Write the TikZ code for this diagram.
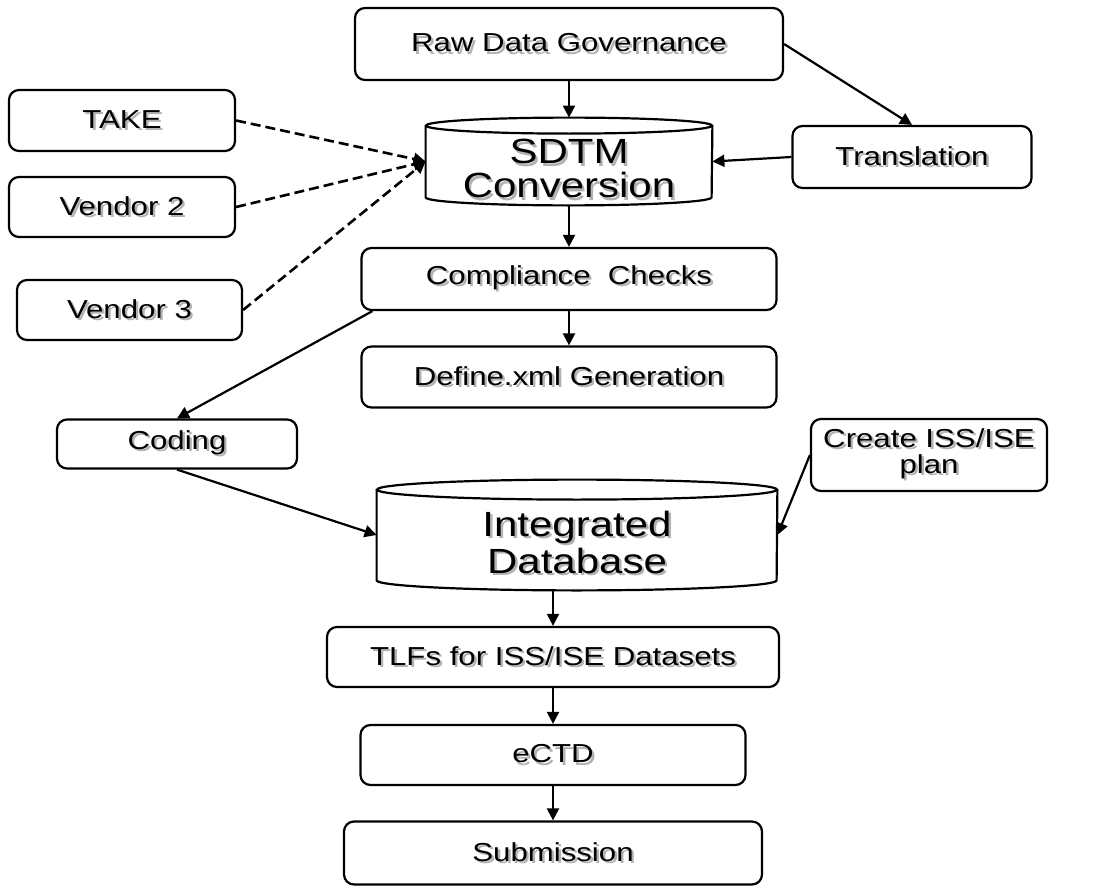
\documentclass[tikz,border=0pt]{standalone}
\usepackage{fontspec}
\setmainfont[FakeStretch=1.2]{Liberation Sans}
\usetikzlibrary{shapes.geometric, arrows.meta}

% grey drop shadow behind a line of text
\newcommand{\shd}[1]{\makebox[0pt][l]{\hspace{1.2pt}\raisebox{-1.2pt}{\textcolor{black!30}{#1}}}#1}

\tikzstyle{box} = [rectangle, rounded corners=5pt, 
minimum height=30pt, 
text centered, align=center, 
draw=black, line width=1.1pt, 
font=\fontsize{13}{13}\selectfont]
\tikzstyle{dbase} = [rectangle, 
inner sep=0pt, 
align=center, 
text height=37.5pt, % pushes the label below the lid
font=\fontsize{17.5}{17}\selectfont]
\tikzstyle{arrow} = [line width=1.1pt,-{Triangle[length=6pt,width=6pt]}]
\tikzstyle{dasharrow} = [arrow, line width=1.3pt, dash pattern=on 5pt off 2.5pt]

\begin{document}
\begin{tikzpicture}[node distance=49pt]
		\useasboundingbox (0,0) rectangle (552.5pt,-447pt);
		
		\node (raw) [box, minimum width=214pt, minimum height=36pt] at (284.5pt,-22pt) {\shd{Raw Data Governance}};
		\node (sdtm) [dbase, minimum width=143pt, minimum height=43.5pt, below of=raw, yshift=-9.75pt] {\shd{SDTM}\\\shd{Conversion}};
		\node (comp) [box, minimum width=207.5pt, minimum height=31pt, below of=sdtm, yshift=-9.75pt] {\shd{Compliance~~Checks}};
		\node (define) [box, minimum width=207.5pt, minimum height=30.5pt, below of=comp] {\shd{Define.xml Generation}};
		\node (idb) [dbase, minimum width=200pt, minimum height=55pt, text height=39.5pt, below of=define, xshift=4pt, yshift=-30pt] {\shd{Integrated}\\\shd{Database}};
		\node (tlf) [box, minimum width=226pt, below of=idb, xshift=-12pt, yshift=-12pt] {\shd{TLFs for ISS/ISE Datasets}};
		\node (ectd) [box, minimum width=192.5pt, below of=tlf] {\shd{eCTD}};
		\node (sub) [box, minimum width=209pt, minimum height=31.5pt, below of=ectd] {\shd{Submission}};
		
		\node (take) [box, minimum width=113pt, minimum height=30.5pt, left of=sdtm, xshift=-174.5pt, yshift=20.5pt] {\shd{TAKE}};
		\node (v2) [box, minimum width=113pt, below of=take, yshift=5.75pt] {\shd{Vendor 2}};
		\node (v3) [box, minimum width=112.5pt, below of=v2, xshift=3.75pt, yshift=-2.5pt] {\shd{Vendor 3}};
		\node (trans) [box, minimum width=119.5pt, minimum height=31pt, right of=sdtm, xshift=122.5pt, yshift=2.25pt] {\shd{Translation}};
		\node (coding) [box, minimum width=120pt, minimum height=24.5pt, left of=idb, xshift=-151pt, yshift=45.5pt] {\shd{Coding}};
		\node (create) [box, minimum width=118pt, minimum height=36pt, right of=idb, xshift=127pt, yshift=40pt] {\shd{Create ISS/ISE}\\\shd{plan}};
		
		% database drums
		\foreach \db/\rx/\ry in {sdtm/71.5pt/4pt, idb/100pt/5pt}{
			\draw[line width=1.1pt] ([yshift=-\ry]\db.north) ellipse [x radius=\rx, y radius=\ry];
			\draw[line width=1.1pt] ([yshift=-\ry]\db.north west) -- ([yshift=\ry]\db.south west) 
				arc [start angle=180, end angle=360, x radius=\rx, y radius=\ry] -- ([yshift=-\ry]\db.north east);
		}
		
		\draw [arrow] (raw) -- (sdtm);
		\draw [arrow] (raw.east) -- (trans.north);
		\draw [arrow] (trans.west) -- (sdtm.east);
		\draw [dasharrow] (take.east) -- (sdtm.west);
		\draw [dasharrow] (v2.east) -- (sdtm.west);
		\draw [dasharrow] (v3.east) -- (sdtm.west);
		
		\draw [arrow] (sdtm) -- (comp);
		\draw [arrow] (comp) -- (define);
		\draw [arrow] ([xshift=6pt]comp.south west) -- (coding.north);
		\draw [arrow] (coding.south) -- (idb.west);
		\draw [arrow] (create.west) -- (idb.east);
		
		\draw [arrow] (idb.south -| tlf.north) -- (tlf.north);
		\draw [arrow] (tlf) -- (ectd);
		\draw [arrow] (ectd) -- (sub);
		
	\end{tikzpicture}
\end{document}
